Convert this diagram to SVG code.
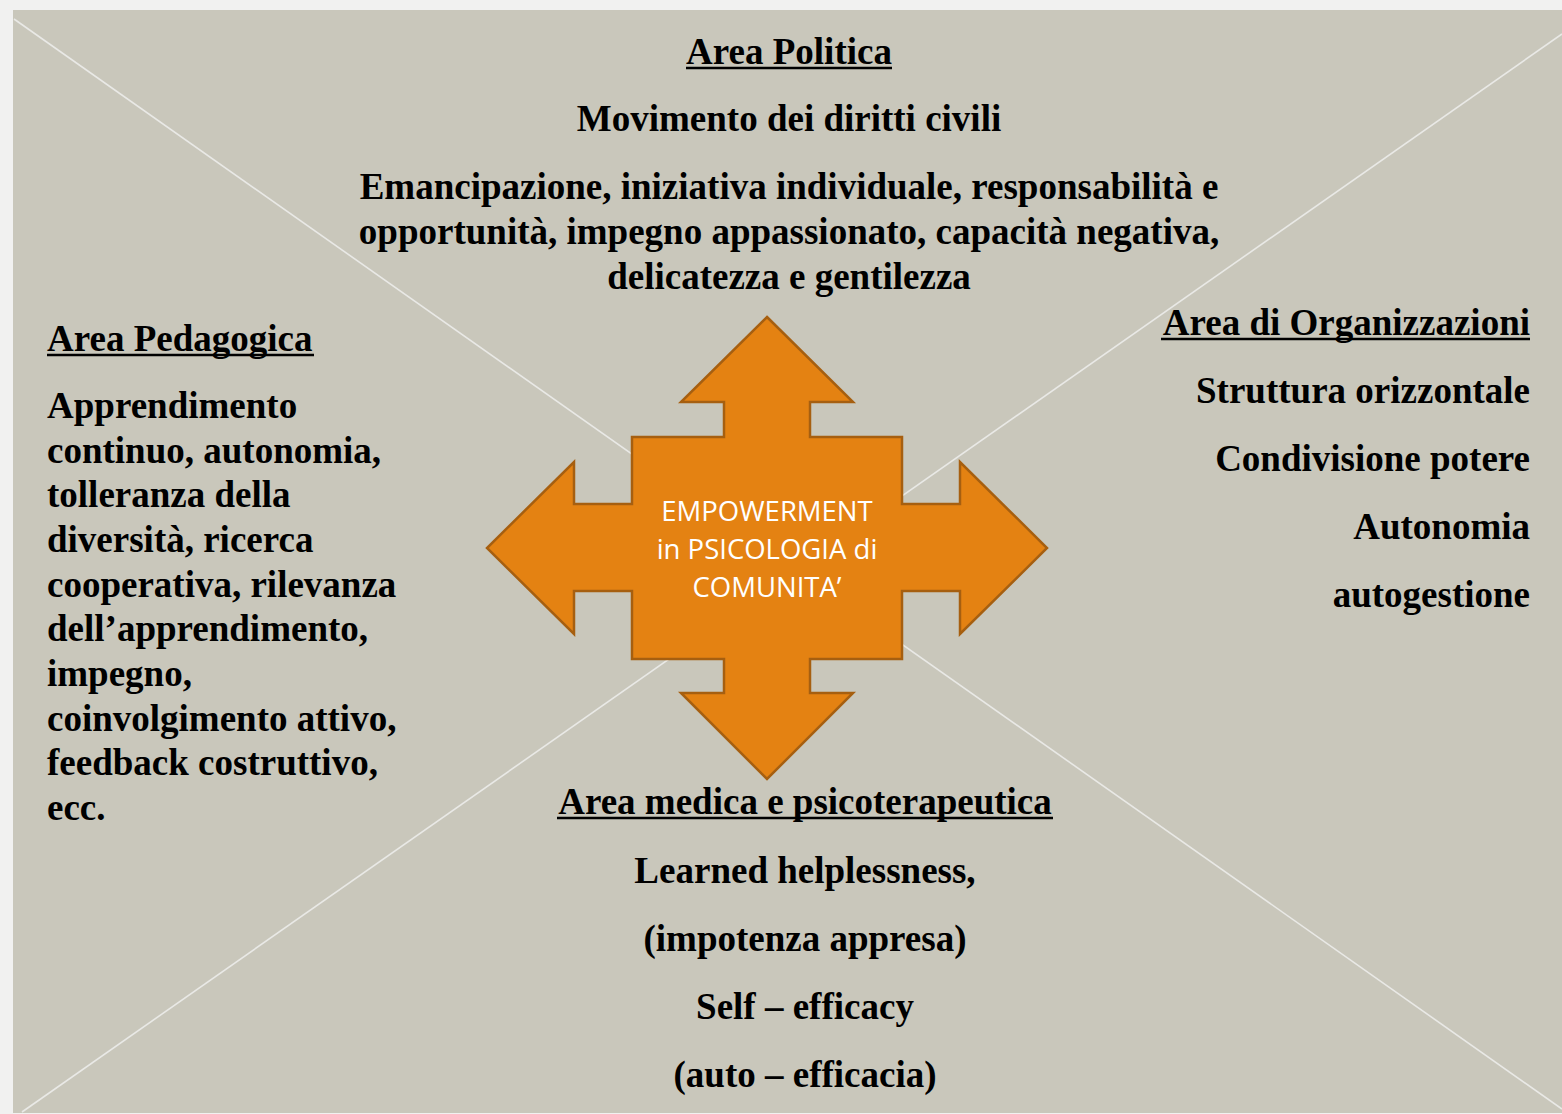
<svg xmlns="http://www.w3.org/2000/svg" width="1562" height="1114" viewBox="0 0 1562 1114">
  <style>
    .t { font-family: "Liberation Serif", "Times New Roman", serif; font-weight: bold; font-size: 37px; fill: #000; }
    .c { text-anchor: middle; }
    .r { text-anchor: end; }
    .ul { stroke: #000; stroke-width: 2.6; }
    .diag { stroke: #e9e9e6; stroke-width: 1.6; fill: none; }
    .arrow { fill: #e48212; stroke: #a65f10; stroke-width: 2.5; stroke-linejoin: miter; }
    .w { font-family: "Open Sans", "Liberation Sans", sans-serif; font-size: 27.5px; fill: #ffffff; text-anchor: middle; }
  </style>
  <rect x="0" y="0" width="1562" height="1114" fill="#f1f1f0"/>
  <rect x="13" y="10" width="1560" height="1103" fill="#c9c7bb"/>

  <g id="diagonals">
    <line class="diag" x1="14" y1="19" x2="1562" y2="1109"/>
    <line class="diag" x1="22" y1="1112" x2="1562" y2="34"/>
  </g>

  <g id="center-node">
    <polygon class="arrow" points="767,317 853,402 810,402 810,437 902,437 902,504 960,504 960,462 1047,548 960,634 960,591 902,591 902,659 810,659 810,693 853,693 767,779 681,693 724,693 724,659 632,659 632,591 574,591 574,634 487,548 574,462 574,504 632,504 632,437 724,437 724,402 681,402"/>
    <text class="w" x="767" y="521">EMPOWERMENT</text>
    <text class="w" x="767" y="559">in PSICOLOGIA di</text>
    <text class="w" x="767" y="597">COMUNITA’</text>
  </g>

  <g id="area-politica">
    <text class="t c" x="789" y="64">Area Politica</text>
    <line class="ul" x1="686" y1="68" x2="892" y2="68"/>
    <text class="t c" x="789" y="131">Movimento dei diritti civili</text>
    <text class="t c" x="789" y="199">Emancipazione, iniziativa individuale, responsabilità e</text>
    <text class="t c" x="789" y="244">opportunità, impegno appassionato, capacità negativa,</text>
    <text class="t c" x="789" y="289">delicatezza e gentilezza</text>
  </g>

  <g id="area-pedagogica">
    <text class="t" x="47" y="351">Area Pedagogica</text>
    <line class="ul" x1="47" y1="355" x2="314" y2="355"/>
    <text class="t" x="47" y="418">Apprendimento</text>
    <text class="t" x="47" y="463">continuo, autonomia,</text>
    <text class="t" x="47" y="507">tolleranza della</text>
    <text class="t" x="47" y="552">diversità, ricerca</text>
    <text class="t" x="47" y="597">cooperativa, rilevanza</text>
    <text class="t" x="47" y="641">dell’apprendimento,</text>
    <text class="t" x="47" y="686">impegno,</text>
    <text class="t" x="47" y="731">coinvolgimento attivo,</text>
    <text class="t" x="47" y="775">feedback costruttivo,</text>
    <text class="t" x="47" y="820">ecc.</text>
  </g>

  <g id="area-organizzazioni">
    <text class="t r" x="1530" y="335">Area di Organizzazioni</text>
    <line class="ul" x1="1161" y1="339" x2="1530" y2="339"/>
    <text class="t r" x="1530" y="403">Struttura orizzontale</text>
    <text class="t r" x="1530" y="471">Condivisione potere</text>
    <text class="t r" x="1530" y="539">Autonomia</text>
    <text class="t r" x="1530" y="607">autogestione</text>
  </g>

  <g id="area-medica">
    <text class="t c" x="805" y="814">Area medica e psicoterapeutica</text>
    <line class="ul" x1="557" y1="818" x2="1053" y2="818"/>
    <text class="t c" x="805" y="883">Learned helplessness,</text>
    <text class="t c" x="805" y="951">(impotenza appresa)</text>
    <text class="t c" x="805" y="1019">Self – efficacy</text>
    <text class="t c" x="805" y="1087">(auto – efficacia)</text>
  </g>
</svg>
